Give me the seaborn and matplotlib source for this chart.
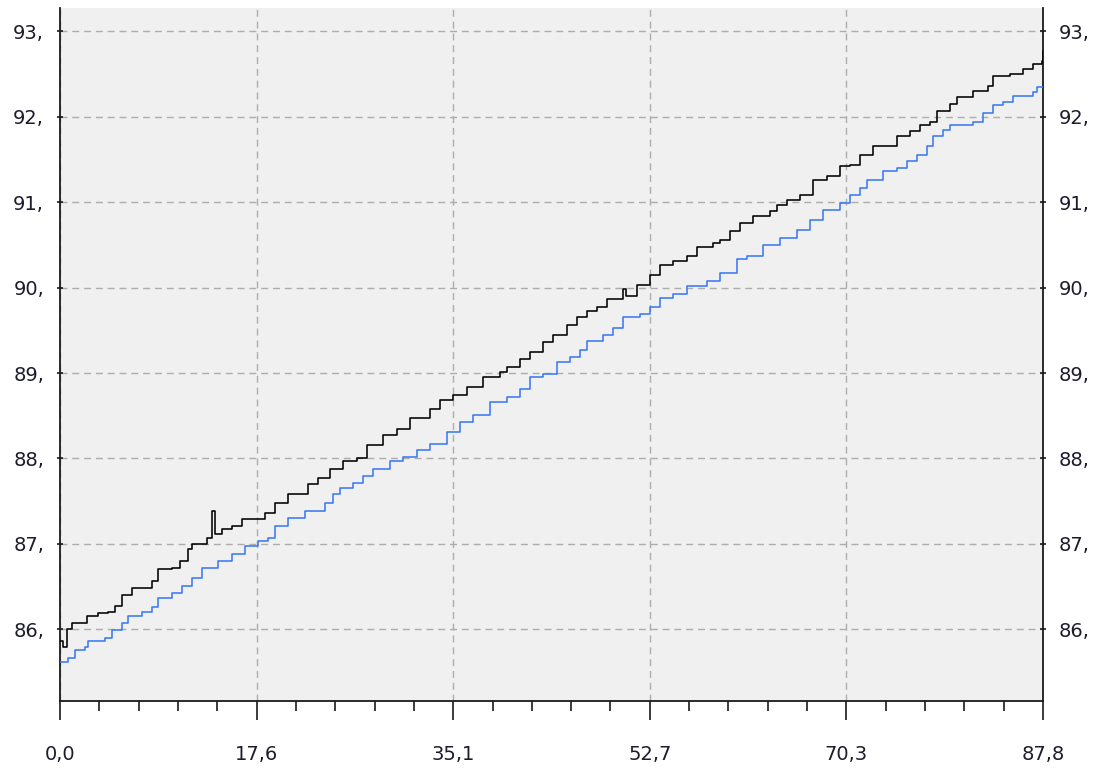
import matplotlib
matplotlib.use("Agg")
import matplotlib.pyplot as plt
import seaborn as sns
import pandas as pd
import numpy as np

# ---- data ----
black_x = [0.0, 0.3, 0.63, 1.07, 1.61, 2.41, 3.39, 4.29, 4.91, 5.54, 6.43, 7.32, 8.22, 8.75,
           10.00, 10.72, 11.43, 11.79, 12.68, 13.13, 13.58, 13.84, 14.47, 15.36, 16.26,
           17.42, 18.31, 19.20, 20.36, 21.62, 22.15, 23.04, 24.12, 25.28, 26.53, 27.42,
           28.85, 30.10, 31.26, 33.05, 33.94, 35.10, 36.35, 37.78, 39.30, 39.93, 41.09,
           41.98, 43.14, 44.03, 45.28, 46.18, 47.07, 47.96, 48.86, 50.29, 50.6, 51.54,
           52.70, 53.59, 54.75, 56.00, 56.89, 58.32, 58.95, 59.84, 60.74, 61.90, 63.42,
           64.04, 64.94, 66.10, 67.26, 68.51, 69.67, 70.56, 71.45, 72.62, 74.13, 74.76,
           75.92, 76.81, 77.71, 78.33, 79.49, 80.12, 81.55, 82.89, 83.34, 84.85, 86.01,
           86.91, 87.71, 87.8]
black_y = [85.87, 85.80, 86.01, 86.08, 86.07, 86.16, 86.19, 86.20, 86.28, 86.40, 86.48, 86.49,
           86.57, 86.71, 86.72, 86.80, 86.94, 87.00, 87.00, 87.07, 87.38, 87.12, 87.17,
           87.21, 87.29, 87.29, 87.36, 87.48, 87.58, 87.59, 87.70, 87.77, 87.88, 87.97,
           88.00, 88.16, 88.28, 88.35, 88.47, 88.58, 88.69, 88.74, 88.84, 88.95, 89.01,
           89.07, 89.16, 89.24, 89.36, 89.45, 89.56, 89.65, 89.73, 89.77, 89.86, 89.98,
           89.90, 90.03, 90.15, 90.26, 90.31, 90.37, 90.47, 90.52, 90.56, 90.66, 90.76,
           90.84, 90.90, 90.97, 91.02, 91.08, 91.26, 91.31, 91.42, 91.43, 91.55, 91.65,
           91.66, 91.77, 91.83, 91.90, 91.94, 92.06, 92.15, 92.23, 92.30, 92.36, 92.47,
           92.50, 92.56, 92.62, 92.65, 92.77]

blue_x = [0.0, 0.71, 1.34, 2.23, 2.50, 4.02, 4.64, 5.54, 6.07, 7.32, 8.22, 8.75, 10.00, 10.90,
          11.79, 12.68, 14.11, 15.36, 16.52, 17.69, 18.58, 19.20, 20.36, 21.88, 23.67,
          24.38, 25.01, 26.17, 27.06, 27.96, 29.48, 30.64, 31.89, 33.05, 34.57, 35.73,
          36.89, 38.41, 39.93, 41.09, 41.98, 43.14, 44.39, 45.55, 46.45, 47.07, 48.50,
          49.39, 50.29, 51.80, 52.70, 53.59, 54.75, 56.00, 57.79, 58.95, 60.47, 61.36,
          62.79, 64.31, 65.83, 66.99, 68.15, 69.67, 70.56, 71.45, 72.08, 73.51, 74.76,
          75.65, 76.55, 77.44, 77.97, 78.87, 79.49, 81.55, 82.44, 83.34, 84.23, 85.12,
          86.91, 87.27, 87.8]
blue_y = [85.62, 85.67, 85.76, 85.79, 85.87, 85.90, 85.99, 86.08, 86.16, 86.20, 86.26, 86.37,
          86.43, 86.51, 86.60, 86.72, 86.80, 86.88, 86.98, 87.03, 87.07, 87.21, 87.30,
          87.38, 87.48, 87.58, 87.65, 87.71, 87.79, 87.88, 87.97, 88.02, 88.10, 88.17,
          88.31, 88.43, 88.51, 88.66, 88.72, 88.81, 88.95, 88.99, 89.13, 89.19, 89.27,
          89.38, 89.45, 89.53, 89.65, 89.69, 89.77, 89.88, 89.92, 90.02, 90.08, 90.17,
          90.33, 90.37, 90.50, 90.58, 90.67, 90.79, 90.91, 90.99, 91.08, 91.16, 91.26,
          91.36, 91.40, 91.48, 91.55, 91.65, 91.77, 91.84, 91.90, 91.94, 92.04, 92.13,
          92.17, 92.24, 92.29, 92.35, 92.35]

x_tick_labels = ["0,0", "17,6", "35,1", "52,7", "70,3", "87,8"]
y_ticks = [86, 87, 88, 89, 90, 91, 92, 93]
y_tick_labels = ["86,", "87,", "88,", "89,", "90,", "91,", "92,", "93,"]

X_MAX = 87.84

# ---- plotting ----
sns.set_style("white")
plt.rcParams['font.family'] = ['DejaVu Sans']

fig = plt.figure(figsize=(10.94, 7.71), dpi=100)
ax = fig.add_axes([60/1094, 1 - 701/771, (1043-60)/1094, (701-8)/771])
ax.set_facecolor("#f0f0f0")

df_b = pd.DataFrame({"x": black_x, "y": black_y})
df_u = pd.DataFrame({"x": blue_x, "y": blue_y})
sns.lineplot(data=df_u, x="x", y="y", ax=ax, color="#3a7af2", lw=1.15,
             drawstyle="steps-post", estimator=None, sort=False, zorder=3)
sns.lineplot(data=df_b, x="x", y="y", ax=ax, color="black", lw=1.15,
             drawstyle="steps-post", estimator=None, sort=False, zorder=4)

ax.set_xlim(0, X_MAX)
ax.set_ylim(85.163, 93.27)

xt = np.linspace(0, X_MAX, len(x_tick_labels))
ax.set_xticks(xt)
ax.set_xticklabels(x_tick_labels)
minor = []
for i in range(len(xt) - 1):
    for k in range(1, 5):
        minor.append(xt[i] + (xt[i+1] - xt[i]) * k / 5)
ax.set_xticks(minor, minor=True)

ax.set_yticks(y_ticks)
ax.set_yticklabels(y_tick_labels)

ax.set_xlabel("")
ax.set_ylabel("")

for s in ["left", "right", "bottom"]:
    ax.spines[s].set_visible(True)
    ax.spines[s].set_color("#1a1a1a")
    ax.spines[s].set_linewidth(1.3)
ax.spines["top"].set_visible(False)

txt_color = "#1c1c2c"
ax.tick_params(axis="x", which="major", direction="out", length=14, width=1.2,
               color="#1a1a1a", pad=18, labelsize=14, labelcolor=txt_color, bottom=True)
ax.tick_params(axis="x", which="minor", direction="out", length=7.5, width=1.2,
               color="#1a1a1a", bottom=True)
ax.tick_params(axis="y", which="major", direction="inout", length=5, width=1.2,
               color="#1a1a1a", pad=9, labelsize=14, labelcolor=txt_color,
               left=True, right=True, labelleft=True, labelright=True)

ax.grid(True, which="major", axis="both", color="#adadad", linestyle=(0, (5, 3.5)),
        linewidth=1.0)
ax.set_axisbelow(True)

fig.savefig("out.png", dpi=100, facecolor="white")
